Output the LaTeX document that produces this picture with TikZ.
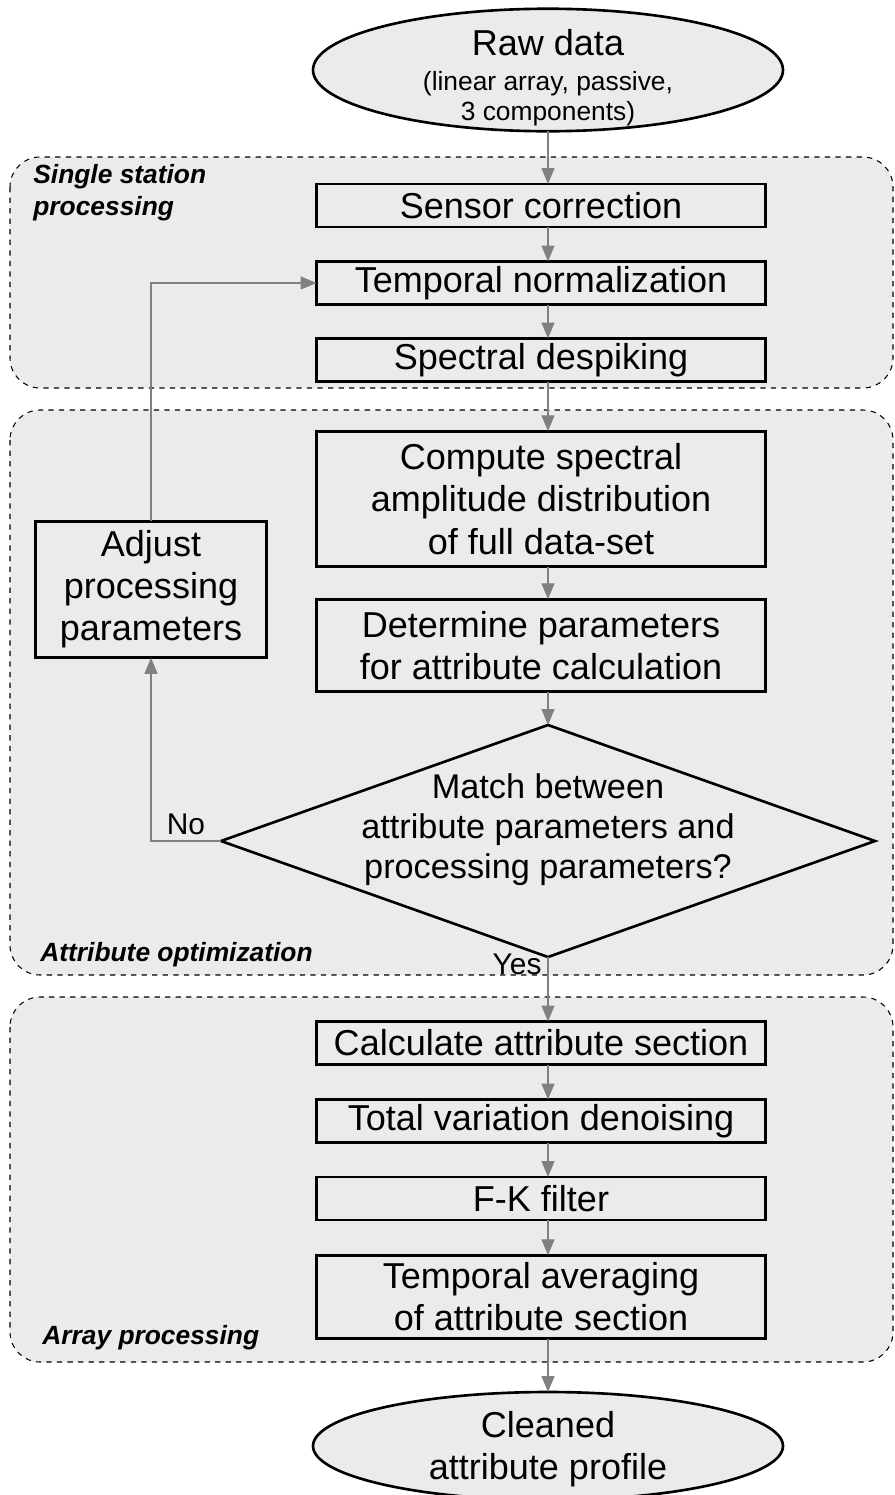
\documentclass[tikz,border=0pt]{standalone}
\usepackage{fontspec}
\setmainfont{Liberation Sans}
\usetikzlibrary{shapes.geometric, positioning}
\usetikzlibrary{arrows.meta}

\definecolor{panel}{HTML}{EBEBEB}
\definecolor{flow}{HTML}{808080}

\begin{document}
\begin{tikzpicture}[>={Triangle[length=3.2mm,width=2.6mm]},
                    every edge/.style={draw=flow,line width=0.8pt},
                    flowline/.style={draw=flow,line width=0.8pt},
                    proc/.style={rectangle,draw,line width=1.5pt,fill=panel,
                      minimum width=8.98cm,minimum height=0.86cm,inner sep=0pt,
                      outer sep=0pt,align=center,
                      font=\fontsize{20.5}{24}\selectfont},
                    term/.style={ellipse,draw,line width=1.5pt,fill=panel,
                      outer sep=0pt},
                    decision/.style={diamond,draw,line width=1.5pt,fill=panel,
                      outer sep=0pt,minimum width=13.08cm,minimum height=4.64cm},
                    boxtext/.style={align=center,inner sep=0pt,
                      font=\fontsize{20.5}{24}\selectfont},
                    dectext/.style={align=center,inner sep=0pt,
                      font=\fontsize{19.5}{22.8}\selectfont},
                    group/.style={draw,dashed,fill=panel,rounded corners=0.6cm,
                      line width=0.6pt},
                    grouplabel/.style={inner sep=0pt,align=left,
                      font=\fontsize{15}{18}\selectfont\bfseries\itshape},
                    answer/.style={font=\fontsize{17}{20}\selectfont}]
  \useasboundingbox (0,0) rectangle (17.9,-29.9);

  % the three processing blocks
  \draw[group] (0.2,-3.14) rectangle (17.86,-7.76);
  \draw[group] (0.2,-8.2) rectangle (17.86,-19.5);
  \draw[group] (0.2,-19.94) rectangle (17.86,-27.24);
  \node[grouplabel,anchor=north west] (lsingle) at (0.66,-3.28)
    {Single station\\processing};
  \node[grouplabel,anchor=west] (lattr) at (0.8,-19.1) {Attribute optimization};
  \node[grouplabel,anchor=west] (larray) at (0.84,-26.76) {Array processing};

  % start and end
  \node[term,minimum width=9.4cm,minimum height=2.45cm] (raw) at (10.96,-1.4) {};
  \node[boxtext,font=\fontsize{15}{17.5}\selectfont] (rawtext)
    at ([yshift=-0.16cm]raw.center)
    {{\fontsize{20.5}{24}\selectfont Raw data}\\[2pt](linear array, passive,\\
     3 components)};
  \node[term,minimum width=9.4cm,minimum height=2.16cm] (clean) at (10.96,-28.92) {};
  \node[boxtext] (cleantext) at ([yshift=-0.06cm]clean.center)
    {Cleaned\\attribute profile};

  % processing steps
  \node[proc] (sensor) at (10.82,-4.11) {Sensor correction};
  \node[proc] (tnorm) [below=0.69cm of sensor] {Temporal normalization};
  \node[proc] (despike) [below=0.68cm of tnorm] {Spectral despiking};
  \node[proc,minimum height=2.71cm] (spec) [below=0.995cm of despike]
    {Compute spectral\\amplitude distribution\\of full data-set};
  \node[proc,minimum height=1.85cm] (param) [below=0.65cm of spec]
    {Determine parameters\\for attribute calculation};
  \node[decision] (match) at (10.96,-16.82) {};
  \node[dectext] (matchtext) at ([yshift=0.22cm]match.center)
    {Match between\\attribute parameters and\\processing parameters?};
  \node[proc,minimum width=4.63cm,minimum height=2.73cm] (adjust) at (3.02,-11.79)
    {Adjust\\processing\\parameters};
  \node[proc] (attsec) at (10.82,-20.86) {Calculate attribute section};
  \node[proc] (tvd) [below=0.70cm of attsec] {Total variation denoising};
  \node[proc] (fk) [below=0.69cm of tvd] {F-K filter};
  \node[proc,minimum height=1.67cm] (tavg) [below=0.705cm of fk]
    {Temporal averaging\\of attribute section};

  % the arrows run down the axis of the two ellipses
  \path[->]
    (raw.south) edge (sensor.north -| raw)
    (sensor.south -| raw) edge (tnorm.north -| raw)
    (tnorm.south -| raw) edge (despike.north -| raw)
    (despike.south -| raw) edge (spec.north -| raw)
    (spec.south -| raw) edge (param.north -| raw)
    (param.south -| raw) edge (match.north)
    (match.south) edge node[answer,pos=0.12,left] {Yes} (attsec.north -| raw)
    (attsec.south -| raw) edge (tvd.north -| raw)
    (tvd.south -| raw) edge (fk.north -| raw)
    (fk.south -| raw) edge (tavg.north -| raw)
    (tavg.south -| raw) edge (clean.north);

  % loop back when the parameters disagree
  \draw[flowline,->] (match.west) -| node[answer,pos=0.25,above] {No} (adjust.south);
  \draw[flowline,->] (adjust.north) |- (tnorm.west);
\end{tikzpicture}
\end{document}
